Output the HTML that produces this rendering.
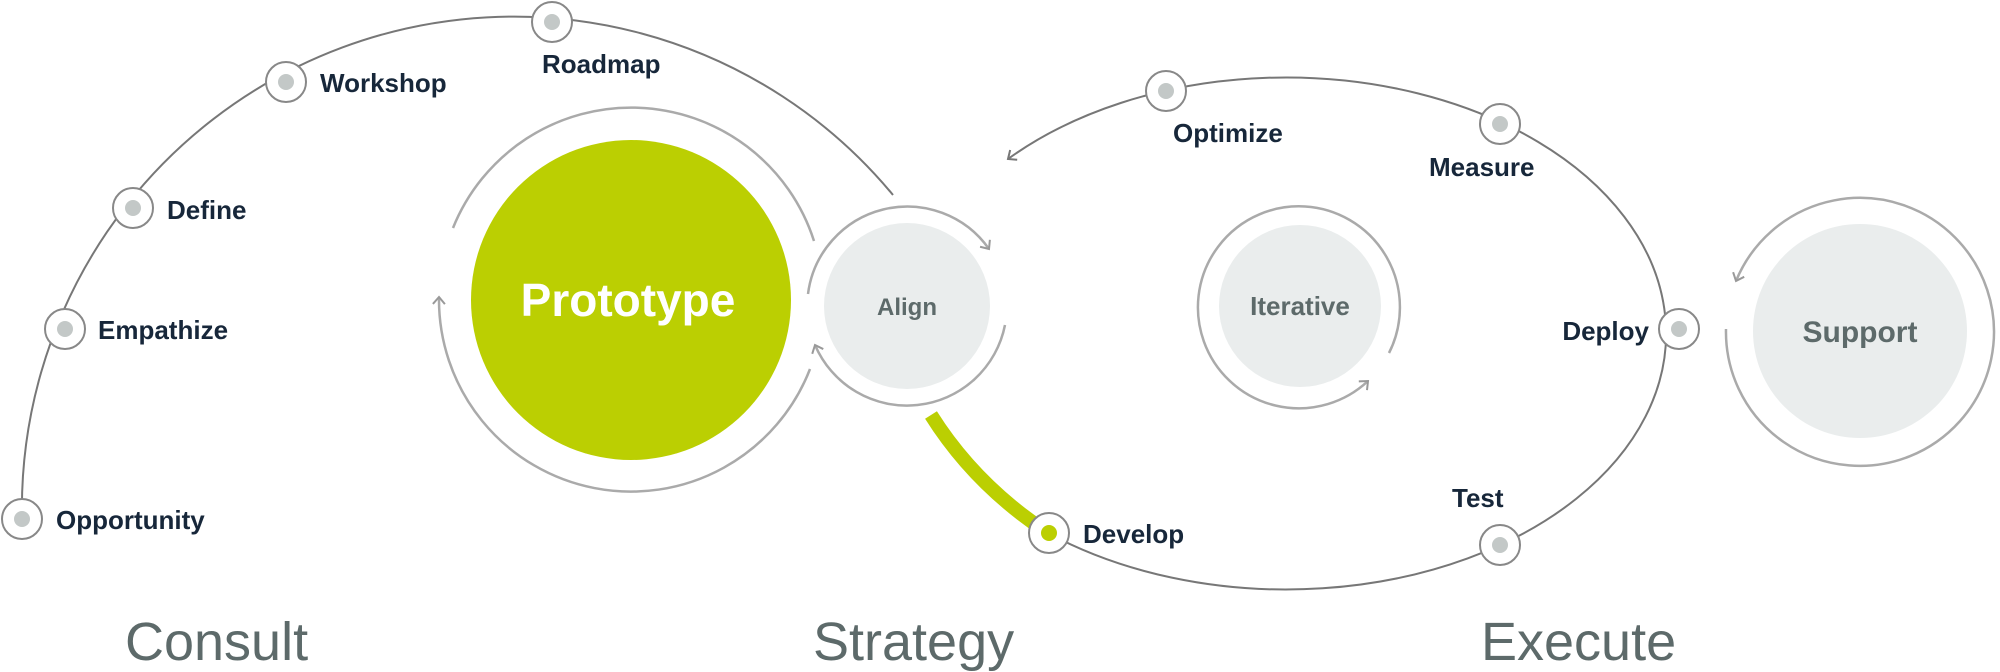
<!DOCTYPE html>
<html><head><meta charset="utf-8"><style>
html,body{margin:0;padding:0;background:#fff;}
svg{display:block;}
.l{font-family:"Liberation Sans",sans-serif;font-weight:bold;font-size:26px;fill:#17273a;}
.h{font-family:"Liberation Sans",sans-serif;font-size:54px;fill:#5d6a6a;}
</style></head><body>
<svg width="2000" height="672" viewBox="0 0 2000 672" xmlns="http://www.w3.org/2000/svg">
<defs>
<marker id="a" markerWidth="14" markerHeight="14" refX="9" refY="7" orient="auto" markerUnits="userSpaceOnUse">
<path d="M2,1 L9,7 L2,13" fill="none" stroke="#999" stroke-width="2"/></marker>
<marker id="b" markerWidth="14" markerHeight="14" refX="9" refY="7" orient="auto" markerUnits="userSpaceOnUse">
<path d="M2,1 L9,7 L2,13" fill="none" stroke="#777" stroke-width="2"/></marker>
</defs>
<path d="M22,519 A492,492 0 0 1 893,195" fill="none" stroke="#777" stroke-width="2"/>
<path d="M1048,533 A380,256 0 1 0 1008,159" fill="none" stroke="#777" stroke-width="2" marker-end="url(#b)"/>
<path d="M931,415 Q975,485 1048,533" fill="none" stroke="#bbcf02" stroke-width="14"/>
<circle cx="631" cy="300" r="160" fill="#bbcf02"/>
<path d="M453,228 A192,192 0 0 1 814,241" fill="none" stroke="#aaa" stroke-width="2.5"/>
<path d="M810,369 A192,192 0 0 1 439,297" fill="none" stroke="#aaa" stroke-width="2.5" marker-end="url(#a)"/>
<text x="628" y="316" text-anchor="middle" font-family="Liberation Sans,sans-serif" font-weight="bold" font-size="46" fill="#fff">Prototype</text>
<circle cx="907" cy="306" r="83" fill="#eaeded"/>
<path d="M808,294 A100,100 0 0 1 989,249" fill="none" stroke="#aaa" stroke-width="2.5" marker-end="url(#a)"/>
<path d="M1005,325 A100,100 0 0 1 815,345" fill="none" stroke="#aaa" stroke-width="2.5" marker-end="url(#a)"/>
<text x="907" y="315" text-anchor="middle" font-family="Liberation Sans,sans-serif" font-weight="bold" font-size="24" fill="#5d6a6a">Align</text>
<circle cx="1300" cy="306" r="81" fill="#eaeded"/>
<path d="M1389,353 A101,101 0 1 0 1368,381" fill="none" stroke="#aaa" stroke-width="2.5" marker-end="url(#a)"/>
<text x="1300" y="315" text-anchor="middle" font-family="Liberation Sans,sans-serif" font-weight="bold" font-size="26" fill="#5d6a6a">Iterative</text>
<circle cx="1860" cy="331" r="107" fill="#eaeded"/>
<path d="M1726,329 A134,134 0 1 0 1736,281" fill="none" stroke="#aaa" stroke-width="2.5" marker-end="url(#a)"/>
<text x="1860" y="342" text-anchor="middle" font-family="Liberation Sans,sans-serif" font-weight="bold" font-size="30" fill="#5d6a6a">Support</text>
<g stroke="#888" stroke-width="2" fill="#fff">
<circle cx="22" cy="519" r="20"/><circle cx="65" cy="329" r="20"/><circle cx="133" cy="208" r="20"/>
<circle cx="286" cy="82" r="20"/><circle cx="552" cy="22" r="20"/>
<circle cx="1166" cy="91" r="20"/><circle cx="1500" cy="124" r="20"/><circle cx="1679" cy="329" r="20"/>
<circle cx="1500" cy="545" r="20"/><circle cx="1049" cy="533" r="20"/>
</g>
<g fill="#c3c8c7">
<circle cx="22" cy="519" r="8"/><circle cx="65" cy="329" r="8"/><circle cx="133" cy="208" r="8"/>
<circle cx="286" cy="82" r="8"/><circle cx="552" cy="22" r="8"/>
<circle cx="1166" cy="91" r="8"/><circle cx="1500" cy="124" r="8"/><circle cx="1679" cy="329" r="8"/>
<circle cx="1500" cy="545" r="8"/>
</g>
<circle cx="1049" cy="533" r="8" fill="#bbcf02"/>
<text class="l" x="56" y="529">Opportunity</text>
<text class="l" x="98" y="339">Empathize</text>
<text class="l" x="167" y="219">Define</text>
<text class="l" x="320" y="92">Workshop</text>
<text class="l" x="542" y="73">Roadmap</text>
<text class="l" x="1173" y="142">Optimize</text>
<text class="l" x="1429" y="176">Measure</text>
<text class="l" x="1649" y="340" text-anchor="end">Deploy</text>
<text class="l" x="1452" y="507">Test</text>
<text class="l" x="1083" y="543">Develop</text>
<text class="h" x="125" y="660">Consult</text>
<text class="h" x="813" y="660">Strategy</text>
<text class="h" x="1481" y="660">Execute</text>
</svg>
</body></html>
